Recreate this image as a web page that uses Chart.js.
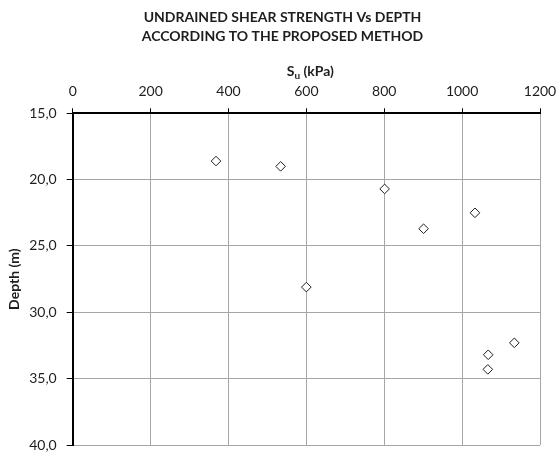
<!DOCTYPE html>
<html>
<head>
<meta charset="utf-8">
<script src="https://cdn.jsdelivr.net/npm/chart.js@4.4.1/dist/chart.umd.min.js"></script>
<style>
    body { margin: 0; background: #fff; }
    #wrap { width: 557px; height: 454px; }
</style>
</head>
<body>
<div id="wrap"><canvas id="myChart" width="557" height="454"></canvas></div>
<script>
let titleLines = ['UNDRAINED SHEAR STRENGTH Vs DEPTH', 'ACCORDING TO THE PROPOSED METHOD']
let suValues = [368, 534, 801, 1033, 901, 600, 1134, 1067, 1066]
let depthValues = [18.6, 19.0, 20.7, 22.5, 23.7, 28.1, 32.3, 33.2, 34.3]
let xTicks = [0, 200, 400, 600, 800, 1000, 1200]
let yTicks = [15, 20, 25, 30, 35, 40]

let points = suValues.map((v, i) => ({ x: v, y: depthValues[i] }))

const fontName = 'Lato, "Open Sans", sans-serif'
const textColor = '#1e1e1e'

// chart title (two lines) and "Su (kPa)" with a real subscript above the top axis
const headTexts = {
    id: 'headTexts',
    afterDraw(chart) {
        const ctx = chart.ctx
        const area = chart.chartArea
        const xs = chart.scales.x
        ctx.save()
        ctx.fillStyle = textColor
        ctx.textBaseline = 'middle'

        ctx.textAlign = 'center'
        ctx.font = 'bold 14px ' + fontName
        ctx.fillText(titleLines[0], 282.5, 17.5)
        ctx.fillText(titleLines[1], 282.5, 36.7)

        ctx.textAlign = 'left'
        const big = 'bold 14px ' + fontName
        const small = 'bold 10px ' + fontName
        ctx.font = big
        const wS = ctx.measureText('S').width
        const wRest = ctx.measureText(' (kPa)').width
        ctx.font = small
        const wU = ctx.measureText('u').width
        const total = wS + wU + wRest
        let x = (area.left + area.right) / 2 + 4 - total / 2
        const y = xs.top + 25.7
        ctx.font = big
        ctx.fillText('S', x, y)
        x += wS
        ctx.font = small
        ctx.fillText('u', x, y + 4)
        x += wU
        ctx.font = big
        ctx.fillText(' (kPa)', x, y)
        ctx.restore()
    }
}

let ctx1 = document.getElementById('myChart').getContext('2d')

let chart1 = new Chart(ctx1, {
    type: 'scatter',
    data: {
        datasets: [{
            label: 'Su',
            data: points,
            pointStyle: 'rectRot',
            pointRadius: 4.8,
            pointHoverRadius: 4.8,
            pointBackgroundColor: '#fff',
            pointBorderColor: '#1e1e1e',
            pointBorderWidth: 1
        }]
    },
    options: {
        responsive: false,
        animation: false,
        layout: { padding: { left: 0, right: 17, top: 46, bottom: 9 } },
        plugins: {
            legend: { display: false },
            tooltip: { enabled: false },
            title: { display: false }
        },
        scales: {
            x: {
                type: 'linear',
                position: 'top',
                min: 0,
                max: 1200,
                afterBuildTicks: s => { s.ticks = xTicks.map(v => ({ value: v })) },
                afterFit: s => {
                    s.height = 67.3
                    s.paddingLeft = 0
                    s.paddingRight = 0
                },
                ticks: {
                    color: textColor,
                    padding: 8,
                    font: { family: fontName, size: 14 },
                    callback: v => String(v)
                },
                grid: { color: '#a6a6a6', lineWidth: 1, tickLength: 5, tickColor: '#000' },
                border: { color: '#000', width: 2 }
            },
            y: {
                type: 'linear',
                reverse: true,
                min: 15,
                max: 40,
                afterBuildTicks: s => { s.ticks = yTicks.map(v => ({ value: v })) },
                afterFit: s => {
                    s.width = 72.7
                    s.paddingTop = 0
                    s.paddingBottom = 0
                },
                title: {
                    display: true,
                    text: 'Depth (m)',
                    color: textColor,
                    font: { family: fontName, size: 14, weight: 'bold' },
                    padding: { top: 5.6, bottom: 0 }
                },
                ticks: {
                    color: textColor,
                    padding: 10,
                    font: { family: fontName, size: 14 },
                    callback: v => v.toFixed(1).replace('.', ',')
                },
                grid: { color: '#a6a6a6', lineWidth: 1, tickLength: 6, tickColor: '#000' },
                border: { color: '#000', width: 2 }
            }
        }
    },
    plugins: [headTexts]
})
</script>
</body>
</html>
